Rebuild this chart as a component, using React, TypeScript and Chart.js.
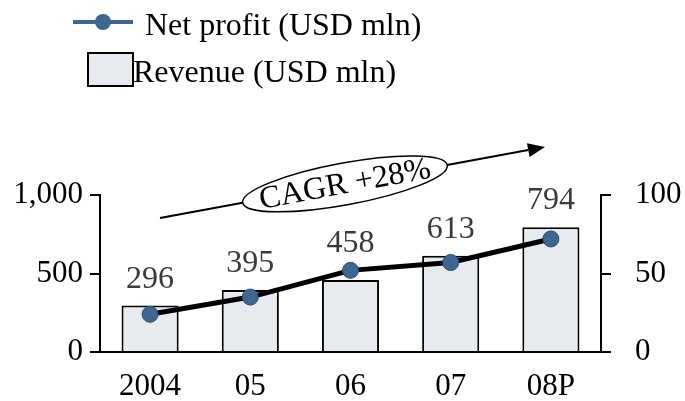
import React, { useEffect, useRef } from "react";
import { Chart, registerables } from "chart.js";

Chart.register(...registerables);

const categories = ["2004", "05", "06", "07", "08P"];
const revenue = [296, 395, 458, 613, 794];
const netProfit = [24, 35, 52, 57, 72];
const revenueTicks = [0, 500, 1000];
const profitTicks = [0, 50, 100];
const legendLabels = ["Net profit (USD mln)", "Revenue (USD mln)"];
const cagrLabel = "CAGR +28%";

const FONT = "'Liberation Serif', 'Times New Roman', serif";
const BAR_FILL = "#e7eaef";
const MARKER_FILL = "#3e6690";
const MARKER_BORDER = "#2c4d70";

const overlayPlugin = {
  id: "overlay",
  afterDatasetsDraw(chart: any) {
    const ctx = chart.ctx as CanvasRenderingContext2D;
    const lineMeta = chart.getDatasetMeta(0);
    const barMeta = chart.getDatasetMeta(1);
    ctx.save();
    // value labels above bars
    ctx.font = `32px ${FONT}`;
    ctx.fillStyle = "#3a3a3a";
    ctx.textAlign = "center";
    ctx.textBaseline = "alphabetic";
    barMeta.data.forEach((bar: any, i: number) => {
      const p = lineMeta.data[i];
      const base = Math.min(bar.y - 18, p.y - 18);
      ctx.fillText(String(revenue[i]), bar.x, base);
    });

    // legend
    ctx.strokeStyle = MARKER_FILL;
    ctx.lineWidth = 4;
    ctx.beginPath();
    ctx.moveTo(73, 22);
    ctx.lineTo(133, 22);
    ctx.stroke();
    ctx.beginPath();
    ctx.arc(103, 22, 8, 0, Math.PI * 2);
    ctx.fillStyle = MARKER_FILL;
    ctx.fill();
    ctx.fillStyle = BAR_FILL;
    ctx.fillRect(88, 53, 45, 33);
    ctx.strokeStyle = "#000";
    ctx.lineWidth = 2;
    ctx.strokeRect(88, 53, 45, 33);
    ctx.fillStyle = "#000";
    ctx.textAlign = "left";
    ctx.fillText(legendLabels[0], 145, 35);
    ctx.fillText(legendLabels[1], 133, 82);

    // CAGR arrow
    const x0 = 160, y0 = 218, x1 = 545, y1 = 147;
    const ang = Math.atan2(y1 - y0, x1 - x0);
    const headLen = 17, headHalf = 7;
    const bx = x1 - headLen * Math.cos(ang);
    const by = y1 - headLen * Math.sin(ang);
    ctx.strokeStyle = "#000";
    ctx.lineWidth = 2;
    ctx.beginPath();
    ctx.moveTo(x0, y0);
    ctx.lineTo(bx, by);
    ctx.stroke();
    ctx.beginPath();
    ctx.moveTo(x1, y1);
    ctx.lineTo(bx + headHalf * Math.sin(ang), by - headHalf * Math.cos(ang));
    ctx.lineTo(bx - headHalf * Math.sin(ang), by + headHalf * Math.cos(ang));
    ctx.closePath();
    ctx.fillStyle = "#000";
    ctx.fill();

    const t = (345 - x0) / (x1 - x0);
    const cx = x0 + t * (x1 - x0);
    const cy = y0 + t * (y1 - y0);
    ctx.translate(cx, cy);
    ctx.rotate(ang);
    ctx.beginPath();
    ctx.ellipse(0, 0, 104, 21, 0, 0, Math.PI * 2);
    ctx.fillStyle = "#fff";
    ctx.fill();
    ctx.lineWidth = 1.5;
    ctx.stroke();
    ctx.fillStyle = "#000";
    ctx.textAlign = "center";
    ctx.textBaseline = "middle";
    ctx.font = `32px ${FONT}`;
    ctx.fillText(cagrLabel, 0, 1);
    ctx.restore();
  },
};

export default function App() {
  const ref = useRef<HTMLCanvasElement>(null);
  useEffect(() => {
    if (!ref.current) return;
    const tickFont = { family: FONT, size: 31 };
    const chart = new Chart(ref.current, {
      type: "bar",
      data: {
        labels: categories,
        datasets: [
          {
            type: "line",
            label: legendLabels[0],
            data: netProfit,
            yAxisID: "y1",
            borderColor: "#000",
            borderWidth: 5,
            pointRadius: 8,
            pointBackgroundColor: MARKER_FILL,
            pointBorderColor: MARKER_BORDER,
            pointBorderWidth: 1,
            tension: 0,
            order: 0,
          } as any,
          {
            type: "bar",
            label: legendLabels[1],
            data: revenue,
            yAxisID: "y",
            backgroundColor: BAR_FILL,
            borderColor: "#000",
            borderWidth: 2,
            barPercentage: 0.57,
            categoryPercentage: 1,
            order: 1,
          },
        ],
      },
      options: {
        responsive: false,
        animation: false,
        layout: { padding: { top: 195, left: 0, right: 0, bottom: 0 } },
        plugins: { legend: { display: false }, tooltip: { enabled: false } },
        scales: {
          x: {
            grid: { display: false, drawTicks: false },
            border: { display: true, color: "#000", width: 2 },
            ticks: { font: tickFont, color: "#000", padding: 16, maxRotation: 0 },
            afterFit: (s: any) => {
              s.height = 49;
            },
          },
          y: {
            position: "left",
            min: 0,
            max: 1000,
            afterBuildTicks: (s: any) => {
              s.ticks = revenueTicks.map((v) => ({ value: v }));
            },
            grid: { drawOnChartArea: false, drawTicks: true, tickLength: 10, color: "#000", lineWidth: 2 },
            border: { display: true, color: "#000", width: 2 },
            ticks: {
              font: tickFont,
              color: "#000",
              padding: 7,
              callback: (v: any) => Number(v).toLocaleString("en-US"),
            },
            afterFit: (s: any) => {
              s.width = 100;
            },
          },
          y1: {
            position: "right",
            min: 0,
            max: 100,
            afterBuildTicks: (s: any) => {
              s.ticks = profitTicks.map((v) => ({ value: v }));
            },
            grid: { drawOnChartArea: false, drawTicks: true, tickLength: 10, color: "#000", lineWidth: 2 },
            border: { display: true, color: "#000", width: 2 },
            ticks: { font: tickFont, color: "#000", padding: 24 },
            afterFit: (s: any) => {
              s.width = 84;
            },
          },
        },
      },
      plugins: [overlayPlugin],
    });
    return () => chart.destroy();
  }, []);
  return (
    <div style={{ position: "absolute", left: 0, top: 0, width: 685, height: 401, background: "#fff" }}>
      <canvas ref={ref} width={685} height={401} style={{ display: "block" }} />
    </div>
  );
}
